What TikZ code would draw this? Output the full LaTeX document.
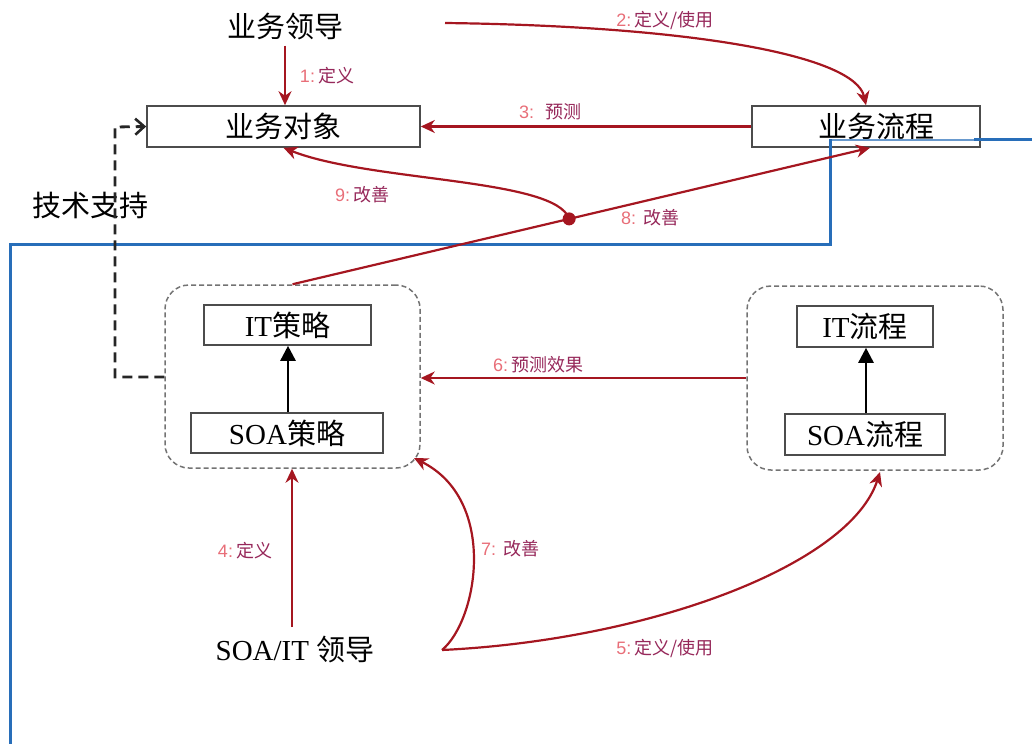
\documentclass[tikz,border=0pt]{standalone}
\usepackage{fontspec}
\setmainfont{Liberation Serif}
\setsansfont{Liberation Sans}
\newfontfamily\cjk{Noto Sans CJK SC}
\usetikzlibrary{arrows.meta}
\definecolor{arrred}{RGB}{165,22,32}
\definecolor{lblnum}{RGB}{232,110,120}
\definecolor{lbltxt}{RGB}{150,40,90}
\definecolor{bline}{RGB}{40,110,185}
\newcommand\zh[1]{{\cjk #1}}
\newcommand\lbl[2]{{\sffamily\color{lblnum}#1}\,{\cjk\color{lbltxt}#2}}
\begin{document}
\begin{tikzpicture}[x=1pt,y=-1pt,
  box/.style={draw=black!70, line width=1.6pt, inner sep=0pt, fill=white,
    font=\fontsize{29}{32}\selectfont},
  grp/.style={draw=black!55, line width=1.5pt, dash pattern=on 5pt off 3pt,
    rounded corners=24pt, inner sep=0pt},
  maintext/.style={font=\fontsize{29}{32}\selectfont, inner sep=0pt},
  lab/.style={font=\fontsize{18}{21}\selectfont, inner sep=0pt},
  redarr/.style={draw=arrred, line width=2.2pt, -{Stealth[length=14pt,width=13pt,inset=4.5pt]}},
  blkarr/.style={draw=black, line width=2.6pt, -{Triangle[length=15pt,width=15pt]}},
]
\useasboundingbox (0,0) rectangle (1032,744);

% groups
\node[grp, minimum width=255pt, minimum height=183pt] (g1) at (292.5,376.5) {};
\node[grp, minimum width=256pt, minimum height=184pt] (g2) at (875,378) {};

% boxes
\node[box, minimum width=273pt, minimum height=41pt] (bo) at (283.5,126.5) {\zh{业务对象}};
\node[box, minimum width=228pt, minimum height=41pt] (bp) at (866,126.5) {\hspace{20pt}\zh{业务流程}};
\node[box, minimum width=167pt, minimum height=40pt] (its) at (287.5,325) {IT\zh{策略}};
\node[box, minimum width=192pt, minimum height=40pt] (soas) at (287,433) {SOA\zh{策略}};
\node[box, minimum width=136pt, minimum height=41pt] (itp) at (865,326.5) {IT\zh{流程}};
\node[box, minimum width=160pt, minimum height=41pt] (soap) at (865,434.5) {SOA\zh{流程}};

% blue line
\draw[bline!70, line width=1.5pt] (974,140) -- (830,140);
\draw[bline, line width=3pt] (1032,139) -- (974,139);
\draw[bline, line width=3pt] (830,139) -- (830,244) -- (10,244) -- (10,744);

% texts
\node[maintext] (lead1) at (285,27) {\zh{业务领导}};
\node[maintext] (lead2) at (295,650) {SOA/IT \zh{领导}};
\node[maintext] (tech) at (90,205) {\zh{技术支持}};
\coordinate (fork) at (442,650);

% black arrows
\draw[blkarr] (soas.north -| 288,0) -- (its.south -| 288,0);
\draw[blkarr] (soap.north -| 866,0) -- (itp.south -| 866,0);

% dashed support
\draw[black!85, line width=2.8pt, dash pattern=on 10pt off 6pt,
  -{Straight Barb[length=9pt,width=16pt,line width=2.6pt]}]
  (g1.west |- 0,377) -- (115,377) -- (115,127) -- (bo.west);

% red arrows
\draw[redarr] (lead1.south) ++(0,5) -- (bo.north -| lead1.south);
\draw[redarr] (445,23) .. controls (690,26) and (855,55) .. ([xshift=0pt]bp.north);
\draw[redarr] (bp.west) -- (bo.east);
\draw[redarr] (g1.north) -- coordinate[pos=0.479] (dot) ([xshift=4pt]bp.south);
\fill[arrred] (dot) circle (6.5pt);
\draw[redarr] (dot) .. controls (556,178) and (370,182) .. (bo.south);
\draw[redarr] (g2.west) -- (g2.west -| g1.east);
\draw[redarr] (292,627) -- (g1.south -| 292,0);
\draw[redarr] (fork) .. controls (478,620) and (498,500) .. (414,458);
\draw[redarr] (fork) .. controls (650,640) and (850,565) .. (880,472);

% labels
\node[lab] (l1) at (327,76) {\lbl{1:}{定义}};
\node[lab] (l2) at (665,20) {\lbl{2:}{定义/使用}};
\node[lab] (l3) at (550,112) {\lbl{3:}{\hspace{8pt}预测}};
\node[lab] (l6) at (538,365) {\lbl{6:}{预测效果}};
\node[lab] (l8) at (650,218) {\lbl{8:}{\hspace{4pt}改善}};
\node[lab] (l9) at (362,195) {\lbl{9:}{改善}};
\node[lab] (l4) at (245,551) {\lbl{4:}{定义}};
\node[lab] (l7) at (510,549) {\lbl{7:}{\hspace{4pt}改善}};
\node[lab] (l5) at (665,648) {\lbl{5:}{定义/使用}};
\end{tikzpicture}
\end{document}
